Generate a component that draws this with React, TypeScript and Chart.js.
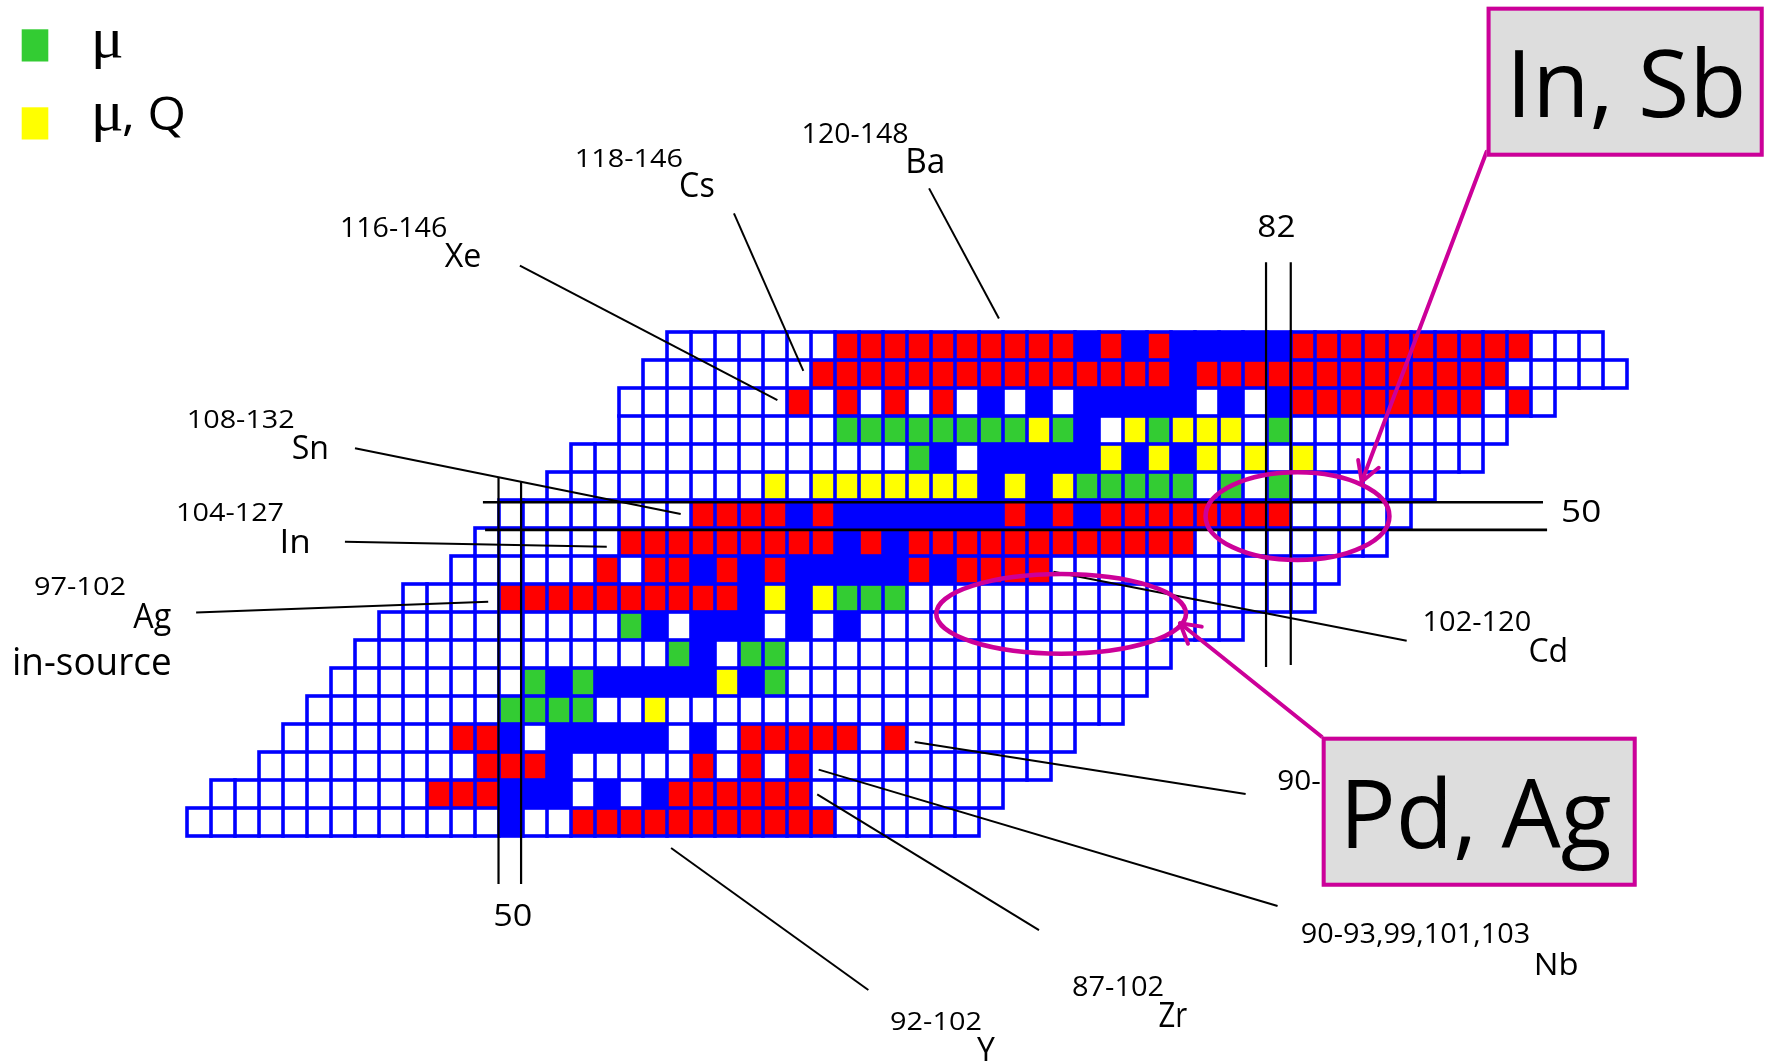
import React, { useEffect, useRef } from "react";
import { Chart, registerables } from "chart.js";

Chart.register(...registerables);

// ---------- DATA ----------
// Proton number of each row (top to bottom) and first neutron number in that row
const Z_ROWS = [56, 55, 54, 53, 52, 51, 50, 49, 48, 47, 46, 45, 44, 43, 42, 41, 40, 39];
const FIRST_N = [57, 56, 55, 55, 53, 52, 50, 49, 48, 46, 45, 44, 43, 42, 41, 40, 38, 37];
// Cell status along N (run-length: "7W" = 7 white). W white, R red, B blue, G green (mu), Y yellow (mu, Q)
const ROW_STATUS = [
  "7W 10R B R B R 5B 10R 3W",
  "7W 15R B 13R 5W",
  "7W R W R W R W R W B W B W 5B W B W B 8R W R W",
  "9W 8G Y G B W Y G 3Y W G 9W",
  "14W G B W 5B Y B Y B Y W Y W Y 7W",
  "9W Y W 7Y B Y B Y 5G W G W G 6W",
  "8W 4R B R 7B R B R B 8R 5W",
  "6W 9R B R B 12R 8W",
  "6W R W 2R B R B R 5B R B 4R 12W",
  "4W 10R B Y B Y 3G 17W",
  "10W G B W 3B W B W B 16W",
  "13W G B W 2G 16W",
  "8W G B G 5B Y B G 15W",
  "8W 4G 2W Y 19W",
  "7W 2R B W 5B W B W 5R W R 7W",
  "9W 3R B 5W R W R W R 10W",
  "9W 3R 3B W B W B 6R 8W",
  "13W B 2W 11R 6W",
];
const STATUS_ORDER = ["W", "R", "B", "G", "Y"];
const STATUS_COLORS: Record<string, string> = {
  W: "#FFFFFF",
  R: "#FF0000",
  B: "#0000FF",
  G: "#33CC33",
  Y: "#FFFF00",
};
const LEGEND_LABELS = ["μ", "μ, Q"];

// Magic-number guide lines [n1, z1, n2, z2, width]
const MAGIC_LINES = [
  [49.48, 51.29, 49.48, 36.79, 2.2],
  [50.42, 51.14, 50.42, 36.79, 2.2],
  [48.83, 50.42, 93.0, 50.42, 2.7],
  [48.92, 49.43, 93.17, 49.43, 2.7],
  [81.46, 58.99, 81.46, 44.54, 2.2],
  [82.49, 58.99, 82.49, 44.61, 2.2],
];
// Leader lines [n1, z1, n2, z2]
const LEADER_LINES = [
  [67.42, 61.63, 70.33, 56.98],
  [59.29, 60.74, 62.18, 55.11],
  [50.37, 58.87, 61.1, 54.07],
  [43.5, 52.35, 57.07, 50.0],
  [43.08, 49.01, 53.99, 48.83],
  [36.88, 46.48, 49.05, 46.87],
  [72.6, 47.94, 87.32, 45.47],
  [66.82, 41.86, 80.61, 40.0],
  [62.82, 40.87, 81.94, 36.0],
  [62.76, 39.99, 72.0, 35.14],
  [56.67, 38.07, 64.89, 33.0],
];
// Text labels: text, n (left), z (baseline), ink width px, ink ascent px
const LABEL_TEXT = [
  "120-148", "Ba", "118-146", "Cs", "116-146", "Xe", "108-132", "Sn", "104-127", "In",
  "97-102", "Ag", "in-source", "102-120", "Cd", "82", "50", "50", "92-102", "Y",
  "87-102", "Zr", "90-93,99,101,103", "Nb", "90-",
];
const LABEL_N = [
  62.196, 66.542, 52.75, 57.083, 42.958, 47.238, 36.583, 40.904, 36.138, 40.488,
  30.167, 34.263, 29.292, 88.071, 92.433, 81.142, 93.846, 49.354, 65.842, 69.417,
  73.417, 77.013, 82.95, 92.704, 81.971,
];
const LABEL_Z = [
  63.239, 62.168, 62.404, 61.332, 59.904, 58.832, 53.061, 51.954, 49.761, 48.618,
  47.107, 45.918, 44.25, 45.821, 44.714, 59.904, 49.725, 35.286, 31.571, 30.439,
  32.786, 31.689, 34.668, 33.536, 40.143,
];
const LABEL_W = [
  104.4, 35, 105, 32.5, 104.6, 35.6, 105, 34, 105, 25.6,
  90, 37.4, 156.7, 106, 37, 36, 36.7, 36, 89.7, 18.4,
  89.6, 27.7, 226.8, 41, 41.7,
];
const LABEL_H = [
  20, 25, 19, 25, 20, 23.4, 19, 24.3, 19, 24.3,
  19.3, 25, 27.7, 20, 25, 23.3, 23.4, 23, 19.3, 25,
  20, 25, 20, 23.3, 20,
];
// Highlight ellipses [n, z, radiusN, radiusZ]
const ELLIPSES = [
  [82.771, 49.923, 3.925, 1.648],
  [72.923, 46.434, 5.298, 1.505],
];
// Callouts: box [nLeft, zTop, nRight, zBottom], text, text pos, arrow
const CALLOUT_TEXT = ["In, Sb", "Pd, Ag"];
const CALLOUT_BOX = [
  [90.65, 68.118, 102.196, 62.761],
  [83.779, 42.046, 96.904, 36.689],
];
const CALLOUT_TEXT_POS = [
  [91.84, 64.189, 226.4, 71.7],
  [84.888, 38.061, 261.7, 73.3],
];
const CALLOUT_ARROW = [
  [90.65, 62.939, 85.446, 51.154],
  [83.779, 42.046, 77.875, 46.096],
];

// ---------- helpers ----------
const FONT = '"Open Sans"';
const SERIF = '"Liberation Serif"';
const MAGENTA = "#CC0099";
const CELL_LINE = 3.6;

function expandRow(code: string): string[] {
  const out: string[] = [];
  code
    .trim()
    .split(/\s+/)
    .forEach((tok) => {
      const m = tok.match(/^(\d*)([A-Z])$/);
      if (!m) return;
      const k = m[1] ? parseInt(m[1], 10) : 1;
      for (let i = 0; i < k; i++) out.push(m[2]);
    });
  return out;
}

function drawFit(
  ctx: CanvasRenderingContext2D,
  text: string,
  left: number,
  baseline: number,
  width: number,
  ascent: number,
  family: string
) {
  ctx.font = `100px ${family}`;
  const m = ctx.measureText(text);
  const size = (100 * ascent) / Math.max(1, m.actualBoundingBoxAscent);
  ctx.font = `${size}px ${family}`;
  const m2 = ctx.measureText(text);
  const inkW = m2.actualBoundingBoxLeft + m2.actualBoundingBoxRight;
  const sx = width / Math.max(1, inkW);
  ctx.save();
  ctx.textAlign = "left";
  ctx.textBaseline = "alphabetic";
  ctx.translate(left + m2.actualBoundingBoxLeft * sx, baseline);
  ctx.scale(sx, 1);
  ctx.fillText(text, 0, 0);
  ctx.restore();
}

const annotationPlugin = {
  id: "nuclideAnnotations",
  afterDatasetsDraw(chart: any) {
    const ctx: CanvasRenderingContext2D = chart.ctx;
    const xs = chart.scales.x;
    const ys = chart.scales.y;
    const X = (n: number) => xs.getPixelForValue(n);
    const Y = (z: number) => ys.getPixelForValue(z);
    ctx.save();

    // magic number lines
    ctx.strokeStyle = "#000000";
    ctx.lineCap = "butt";
    MAGIC_LINES.forEach((l) => {
      ctx.lineWidth = l[4];
      ctx.beginPath();
      ctx.moveTo(X(l[0]), Y(l[1]));
      ctx.lineTo(X(l[2]), Y(l[3]));
      ctx.stroke();
    });

    // leader lines
    ctx.lineWidth = 2;
    LEADER_LINES.forEach((l) => {
      ctx.beginPath();
      ctx.moveTo(X(l[0]), Y(l[1]));
      ctx.lineTo(X(l[2]), Y(l[3]));
      ctx.stroke();
    });

    // labels
    ctx.fillStyle = "#000000";
    LABEL_TEXT.forEach((t, i) => {
      drawFit(ctx, t, X(LABEL_N[i]), Y(LABEL_Z[i]), LABEL_W[i], LABEL_H[i], FONT);
    });

    // ellipses
    ctx.strokeStyle = MAGENTA;
    ctx.lineWidth = 4.6;
    ELLIPSES.forEach((e) => {
      const cx = X(e[0]);
      const cy = Y(e[1]);
      const rx = X(e[0] + e[2]) - cx - 2.3;
      const ry = cy - Y(e[1] + e[3]) - 2.3;
      ctx.beginPath();
      ctx.ellipse(cx, cy, rx, ry, 0, 0, Math.PI * 2);
      ctx.stroke();
    });

    // callouts
    CALLOUT_TEXT.forEach((txt, i) => {
      const a = CALLOUT_ARROW[i];
      const ax = X(a[0]);
      const ay = Y(a[1]);
      const tx = X(a[2]);
      const ty = Y(a[3]);
      ctx.strokeStyle = MAGENTA;
      ctx.lineWidth = 4;
      ctx.lineCap = "round";
      ctx.lineJoin = "round";
      ctx.beginPath();
      ctx.moveTo(ax, ay);
      ctx.lineTo(tx, ty);
      ctx.stroke();
      const ang = Math.atan2(ty - ay, tx - ax);
      const L = 22;
      const sp = Math.PI / 6;
      ctx.beginPath();
      ctx.moveTo(tx - L * Math.cos(ang - sp), ty - L * Math.sin(ang - sp));
      ctx.lineTo(tx, ty);
      ctx.lineTo(tx - L * Math.cos(ang + sp), ty - L * Math.sin(ang + sp));
      ctx.stroke();

      const b = CALLOUT_BOX[i];
      const bx0 = X(b[0]);
      const by0 = Y(b[1]);
      const bx1 = X(b[2]);
      const by1 = Y(b[3]);
      ctx.fillStyle = "#DDDDDD";
      ctx.fillRect(bx0, by0, bx1 - bx0, by1 - by0);
      ctx.lineCap = "butt";
      ctx.lineJoin = "miter";
      ctx.strokeRect(bx0 + 2, by0 + 2, bx1 - bx0 - 4, by1 - by0 - 4);

      const p = CALLOUT_TEXT_POS[i];
      ctx.fillStyle = "#000000";
      drawFit(ctx, txt, X(p[0]), Y(p[1]), p[2], p[3], FONT);
    });

    // legend (top-left)
    const legendCodes = ["G", "Y"];
    const sqTop = [29.3, 107.3];
    const muBase = [56.7, 130.3];
    legendCodes.forEach((c, i) => {
      ctx.fillStyle = STATUS_COLORS[c];
      ctx.fillRect(21.7, sqTop[i], 26.6, 32.2);
      ctx.fillStyle = "#000000";
      const label = LEGEND_LABELS[i];
      const mu = label.charAt(0);
      drawFit(ctx, mu, 95, muBase[i], 26.7, 26.5, SERIF);
      const rest = label.slice(1);
      if (rest.length) {
        drawFit(ctx, rest, 123, 130, 60.3, 33.3, FONT);
      }
    });

    ctx.restore();
  },
};

export default function App() {
  const canvasRef = useRef<HTMLCanvasElement | null>(null);

  useEffect(() => {
    if (!canvasRef.current) return;
    const cells: Record<string, { x: [number, number]; y: number }[]> = {
      W: [],
      R: [],
      B: [],
      G: [],
      Y: [],
    };
    const frame: { x: [number, number]; y: number }[] = [];
    Z_ROWS.forEach((z, i) => {
      expandRow(ROW_STATUS[i]).forEach((c, k) => {
        const n = FIRST_N[i] + k;
        cells[c].push({ x: [n - 0.5, n + 0.5], y: z });
        frame.push({ x: [n - 0.5, n + 0.5], y: z });
      });
    });

    // Cell fills: every cell deflated by half a line width
    const fills = STATUS_ORDER.map((c) => ({
      label: c,
      data: cells[c],
      backgroundColor: STATUS_COLORS[c],
      borderWidth: 0,
      inflateAmount: -CELL_LINE / 2,
      grouped: false,
      barPercentage: 1,
      categoryPercentage: 1,
    }));
    // Blue grid underlay (last dataset = drawn first, beneath the fills)
    const underlay = {
      label: "grid",
      data: frame,
      backgroundColor: "#0000FF",
      borderWidth: 0,
      inflateAmount: CELL_LINE / 2,
      grouped: false,
      barPercentage: 1,
      categoryPercentage: 1,
    };

    const chart = new Chart(canvasRef.current, {
      type: "bar",
      data: { datasets: [...fills, underlay] as any },
      options: {
        indexAxis: "y",
        animation: false,
        responsive: true,
        maintainAspectRatio: false,
        devicePixelRatio: 1,
        events: [],
        layout: { padding: 0 },
        plugins: {
          legend: { display: false },
          tooltip: { enabled: false },
        },
        scales: {
          x: {
            type: "linear",
            display: false,
            min: 28.7083,
            max: 102.2917,
            offset: false,
            grid: { display: false, offset: false },
            ticks: { includeBounds: false },
          },
          y: {
            type: "linear",
            display: false,
            min: 30.4643,
            max: 68.3571,
            offset: false,
            grid: { display: false, offset: false },
            ticks: { includeBounds: false, stepSize: 1 },
          },
        },
      } as any,
      plugins: [annotationPlugin as any],
    });
    return () => chart.destroy();
  }, []);

  return (
    <div
      style={{
        position: "absolute",
        left: 0,
        top: 0,
        width: 1766,
        height: 1061,
        background: "#FFFFFF",
      }}
    >
      <canvas ref={canvasRef} />
    </div>
  );
}
